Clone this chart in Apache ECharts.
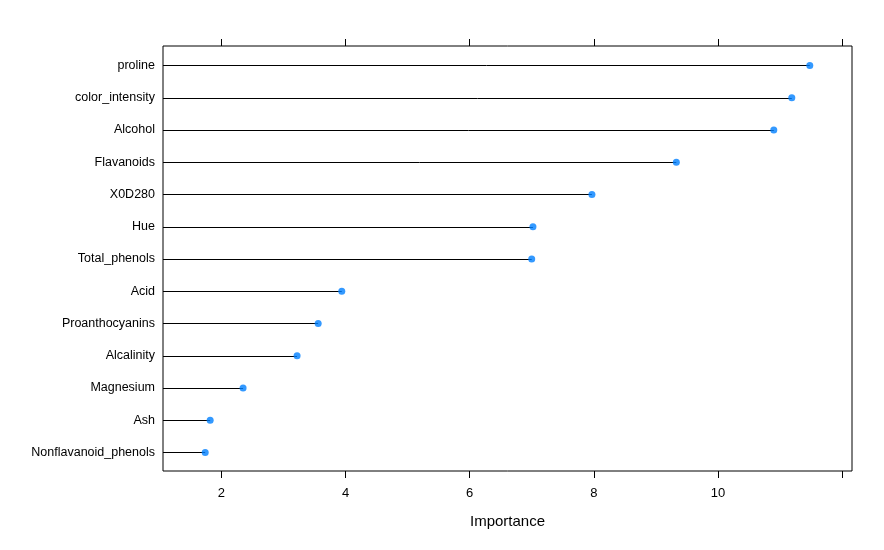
<!DOCTYPE html>
<html><head><meta charset="utf-8">
<script src="https://cdn.jsdelivr.net/npm/echarts@6/dist/echarts.min.js"></script>
<style>html,body{margin:0;padding:0;background:#fff}#c{width:884px;height:550px}</style>
</head><body><div id="c"></div>
<script>
const categories = ["proline","color_intensity","Alcohol","Flavanoids","X0D280","Hue","Total_phenols","Acid","Proanthocyanins","Alcalinity","Magnesium","Ash","Nonflavanoid_phenols"];
const importance = [11.48,11.19,10.90,9.33,7.97,7.02,7.00,3.94,3.56,3.22,2.35,1.82,1.74];
const xTicks = [2,4,6,8,10,12];
const xLabels = ["2","4","6","8","10",""];
const xTitle = "Importance";

const XMIN = 1.06, XMAX = 12.16;
const font = "'Liberation Sans', Arial, sans-serif";
const chart = echarts.init(document.getElementById('c'), null, {renderer:'canvas'});
const pts = importance.map((v,i)=>[v,i]);
chart.setOption({
  animation:false,
  grid:[
    {left:163, right:32, top:46, height:425, show:true, borderColor:'#000', borderWidth:1, containLabel:false},
    {left:163, right:32, top:49.25, height:419.25, containLabel:false}
  ],
  xAxis:[
    {gridIndex:0, type:'value', min:XMIN, max:XMAX, position:'bottom',
     axisLine:{show:false}, splitLine:{show:false},
     axisTick:{show:true, inside:false, length:7, lineStyle:{color:'#000'}, customValues:xTicks},
     axisLabel:{show:true, color:'#000', fontFamily:font, fontSize:13, margin:16,
       customValues:xTicks, formatter:(v)=>xLabels[xTicks.indexOf(Math.round(v))] ?? ''},
     name:xTitle, nameLocation:'middle', nameGap:43, nameTextStyle:{color:'#000', fontFamily:font, fontSize:15}},
    {gridIndex:0, type:'value', min:XMIN, max:XMAX, position:'top',
     axisLine:{show:false}, splitLine:{show:false}, axisLabel:{show:false},
     axisTick:{show:true, inside:false, length:7, lineStyle:{color:'#000'}, customValues:xTicks}},
    {gridIndex:1, type:'value', min:XMIN, max:XMAX, show:false}
  ],
  yAxis:[
    {gridIndex:0, type:'value', min:0, max:1, show:false},
    {gridIndex:1, type:'category', data:categories, inverse:true, boundaryGap:true,
     axisLine:{show:false}, axisTick:{show:false}, splitLine:{show:false},
     axisLabel:{color:'#000', fontFamily:font, fontSize:12.5, margin:8, padding:[8,0,0,0]}}
  ],
  series:[
    {type:'custom', xAxisIndex:2, yAxisIndex:1, data:pts, silent:true, z:2,
     renderItem:(params, api)=>{
       const y = api.value(1);
       const p0 = api.coord([XMIN, y]);
       const p1 = api.coord([api.value(0), y]);
       return {type:'line', shape:{x1:p0[0], y1:Math.round(p0[1])+0.5, x2:p1[0], y2:Math.round(p1[1])+0.5},
               style:{stroke:'#000', lineWidth:1}};
     }},
    {type:'scatter', xAxisIndex:2, yAxisIndex:1, data:pts, symbol:'circle', symbolSize:7,
     itemStyle:{color:'#0080ff'}, z:3, silent:true}
  ]
});
</script></body></html>
